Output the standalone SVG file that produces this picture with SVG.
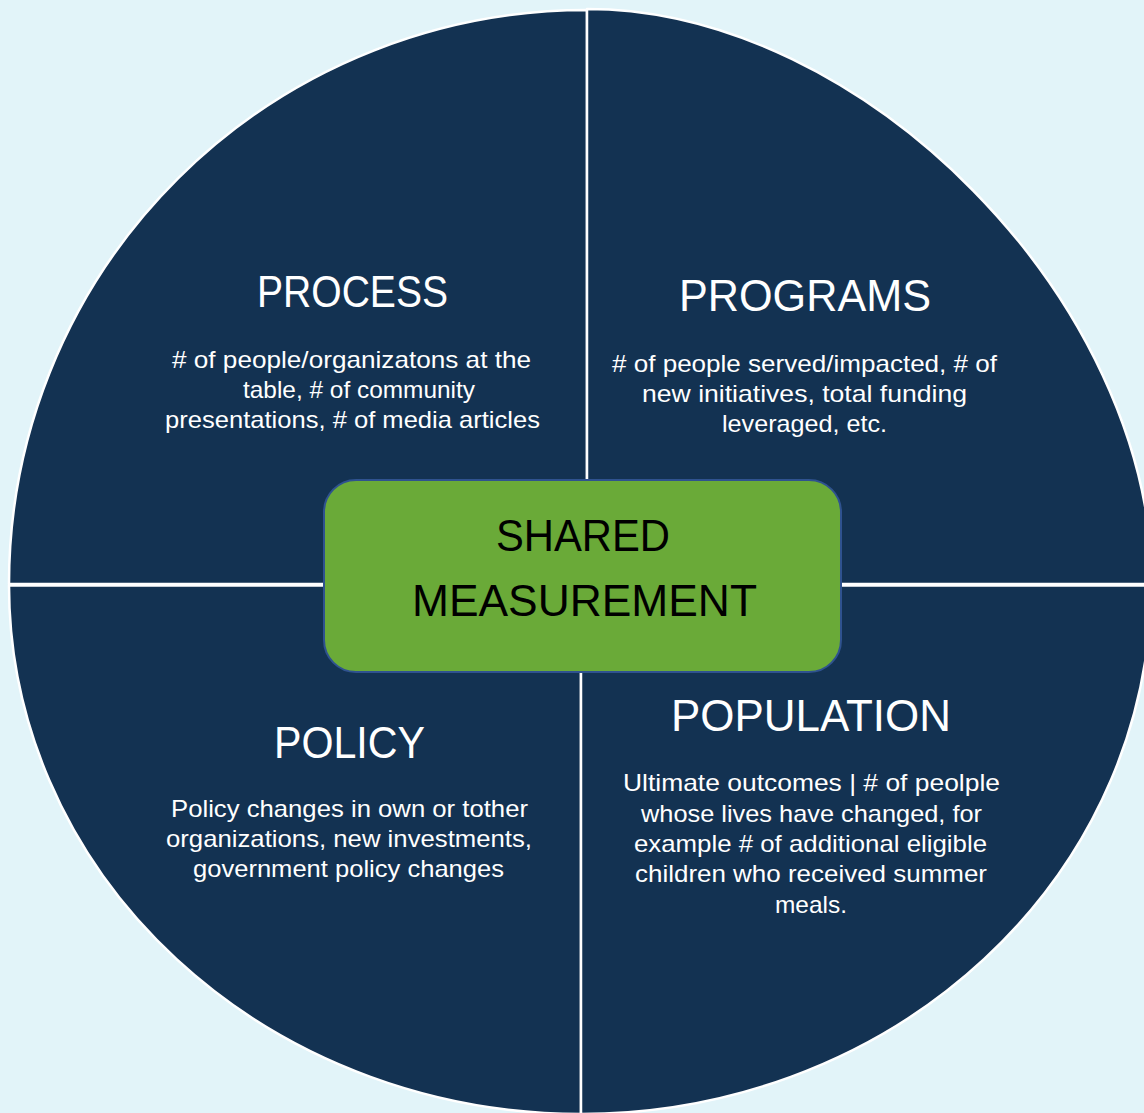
<svg xmlns="http://www.w3.org/2000/svg" width="1144" height="1113" viewBox="0 0 1144 1113">
  <style>
    .q { fill: #133252; stroke: #ffffff; stroke-width: 2.5; stroke-linejoin: round; }
    .hub { fill: #6aaa38; stroke: #2f528f; stroke-width: 2; }
    text { font-family: "Liberation Sans", Arial, sans-serif; text-anchor: middle; }
    .title { font-size: 45px; fill: #ffffff; }
    .body { font-size: 24px; fill: #ffffff; }
    .hubtext { font-size: 44px; fill: #000000; }
  </style>
  <rect x="0" y="0" width="1144" height="1113" fill="#e2f4f9"/>

  <g id="connectors"></g>

  <g id="process">
    <path class="q" d="M587,584 L9,584 A578,574 0 0 1 587,10 Z"/>
    <text class="title" x="352.5" y="307" textLength="191" lengthAdjust="spacingAndGlyphs">PROCESS</text>
    <text class="body" x="351.5" y="368" textLength="359" lengthAdjust="spacingAndGlyphs"># of people/organizatons at the</text>
    <text class="body" x="359" y="398" textLength="232" lengthAdjust="spacingAndGlyphs">table, # of community</text>
    <text class="body" x="352.5" y="428" textLength="375" lengthAdjust="spacingAndGlyphs">presentations, # of media articles</text>
  </g>

  <g id="programs">
    <path class="q" d="M587,584 L587,9 C864,9 1152,302 1152,584 Z"/>
    <text class="title" x="805" y="311" textLength="252" lengthAdjust="spacingAndGlyphs">PROGRAMS</text>
    <text class="body" x="804.5" y="372" textLength="385" lengthAdjust="spacingAndGlyphs"># of people served/impacted, # of</text>
    <text class="body" x="804.5" y="402" textLength="325" lengthAdjust="spacingAndGlyphs">new initiatives, total funding</text>
    <text class="body" x="804.5" y="432" textLength="165" lengthAdjust="spacingAndGlyphs">leveraged, etc.</text>
  </g>

  <g id="policy">
    <path class="q" d="M581,585.5 L581,1114 A572,528.5 0 0 1 9,585.5 Z"/>
    <text class="title" x="349.5" y="758" textLength="151" lengthAdjust="spacingAndGlyphs">POLICY</text>
    <text class="body" x="349.5" y="817" textLength="357" lengthAdjust="spacingAndGlyphs">Policy changes in own or tother</text>
    <text class="body" x="349" y="847" textLength="366" lengthAdjust="spacingAndGlyphs">organizations, new investments,</text>
    <text class="body" x="348.5" y="877" textLength="311" lengthAdjust="spacingAndGlyphs">government policy changes</text>
  </g>

  <g id="population">
    <path class="q" d="M581,585.5 L1151,585.5 A570,528.5 0 0 1 581,1114 Z"/>
    <text class="title" x="811" y="731" textLength="280" lengthAdjust="spacingAndGlyphs">POPULATION</text>
    <text class="body" x="811.5" y="791" textLength="377" lengthAdjust="spacingAndGlyphs">Ultimate outcomes | # of peolple</text>
    <text class="body" x="811.5" y="822" textLength="341" lengthAdjust="spacingAndGlyphs">whose lives have changed, for</text>
    <text class="body" x="810.5" y="852" textLength="353" lengthAdjust="spacingAndGlyphs">example # of additional eligible</text>
    <text class="body" x="811" y="882" textLength="352" lengthAdjust="spacingAndGlyphs">children who received summer</text>
    <text class="body" x="811" y="913" textLength="72" lengthAdjust="spacingAndGlyphs">meals.</text>
  </g>

  <g id="shared-measurement">
    <rect class="hub" x="324" y="480" width="517" height="192" rx="32" ry="32"/>
    <text class="hubtext" x="583" y="551" textLength="174" lengthAdjust="spacingAndGlyphs">SHARED</text>
    <text class="hubtext" x="584.5" y="616" textLength="345" lengthAdjust="spacingAndGlyphs">MEASUREMENT</text>
  </g>
</svg>
